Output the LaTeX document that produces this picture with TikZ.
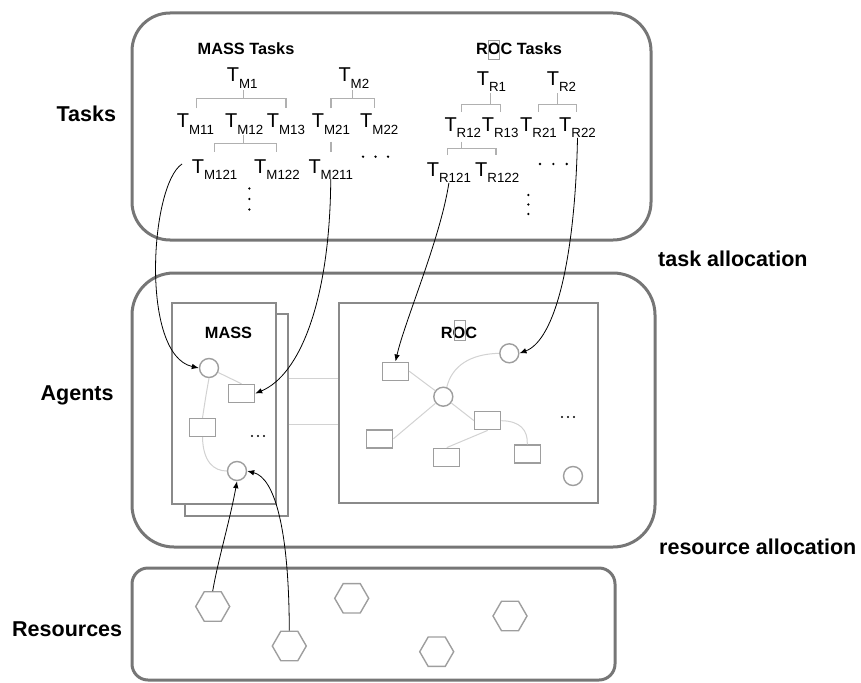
\documentclass[tikz,border=0pt]{standalone}
\usepackage{fontspec}
\setmainfont{Liberation Sans}
\usetikzlibrary{arrows.meta,shapes.geometric}

\definecolor{framegray}{HTML}{767676}
\definecolor{panelgray}{HTML}{8A8A8A}
\definecolor{elemgray}{HTML}{9E9E9E}
\definecolor{forkgray}{HTML}{B0B0B0}
\definecolor{linkgray}{HTML}{D2D2D2}

% task symbol with lowered index
\newcommand\tsk[1]{T\raisebox{-6pt}{\fontsize{13.3}{14}\selectfont #1}}
% bracket joining a task to its subtasks: left x, right x, stem x, stem top, bar y, tick bottom
\newcommand\forkline[6]{\draw[fork] (#3,#4) -- (#3,#5) (#1,#6) -- (#1,#5) -- (#2,#5) -- (#2,#6);}

\tikzset{
  layer/.style={draw=framegray, line width=3pt, rounded corners=#1, inner sep=0},
  panel/.style={draw=panelgray, line width=2.3pt, fill=white, inner sep=0},
  agentc/.style={circle, draw=elemgray, line width=1.4pt, minimum size=19pt, inner sep=0},
  agentr/.style={rectangle, draw=elemgray, line width=1.4pt, minimum width=26pt, minimum height=18pt, inner sep=0},
  res/.style={regular polygon, regular polygon sides=6, draw=elemgray, line width=1.4pt, minimum size=34pt, inner sep=0},
  sidelabel/.style={anchor=base west, inner sep=0, font=\fontsize{21.5}{24}\selectfont\bfseries},
  title/.style={anchor=base, inner sep=0, font=\fontsize{16.3}{18}\selectfont\bfseries},
  task/.style={anchor=base west, inner sep=0, font=\fontsize{20}{22}\selectfont},
  fork/.style={draw=forkgray, line width=1.5pt},
  link/.style={draw=linkgray, line width=1pt},
  alloc/.style={draw=black, line width=0.8pt, -{Latex[length=7pt,width=5.5pt]}},
  dotmark/.style={fill=black, draw=none},
}

\begin{document}
\begin{tikzpicture}[x=1pt,y=-1pt]
\useasboundingbox (0,0) rectangle (861,682);

% ---------- layers ----------
\node[layer=38pt, minimum width=519pt, minimum height=227pt] (tasklayer) at (391.5,126.5) {};
\node[layer=42pt, minimum width=523pt, minimum height=274pt] (agentlayer) at (393.5,410) {};
\node[layer=16pt, minimum width=483pt, minimum height=112pt] (reslayer) at (373.5,624) {};

\node[sidelabel] (ltasks) at (56.5,121.7) {Tasks};
\node[sidelabel] (lagents) at (40.5,400) {Agents};
\node[sidelabel] (lres) at (12,636.5) {Resources};
\node[sidelabel] (ltalloc) at (658,266.5) {task allocation};
\node[sidelabel] (lralloc) at (659,554) {resource allocation};

% ---------- task trees ----------
\node[title] (masstasks) at (246,55) {MASS Tasks};
\node[title] (roctasks) at (519,54.5) {ROC Tasks};
\draw[elemgray, line width=0.5pt] (488.5,40) rectangle (499.5,59.5);

\node[task] (tm1) at (226.7,82) {\tsk{M1}};
\node[task] (tm2) at (338.3,82) {\tsk{M2}};
\node[task] (tm11) at (176.7,128) {\tsk{M11}};
\node[task] (tm12) at (225,128) {\tsk{M12}};
\node[task] (tm13) at (266.7,128) {\tsk{M13}};
\node[task] (tm21) at (311.7,128) {\tsk{M21}};
\node[task] (tm22) at (360,128) {\tsk{M22}};
\node[task] (tm121) at (191.7,173) {\tsk{M121}};
\node[task] (tm122) at (254,173) {\tsk{M122}};
\node[task] (tm211) at (308.3,173) {\tsk{M211}};

\node[task] (tr1) at (476.7,85.5) {\tsk{R1}};
\node[task] (tr2) at (546.7,85.5) {\tsk{R2}};
\node[task] (tr12) at (444.3,131.7) {\tsk{R12}};
\node[task] (tr13) at (481.7,131.7) {\tsk{R13}};
\node[task] (tr21) at (520,131.7) {\tsk{R21}};
\node[task] (tr22) at (559,131.7) {\tsk{R22}};
\node[task] (tr121) at (426.7,176.7) {\tsk{R121}};
\node[task] (tr122) at (475,176.7) {\tsk{R122}};

\forkline{196.7}{286}{243.3}{90}{98.3}{108.3}
\forkline{331}{374.3}{352.7}{90}{98.3}{108.3}
\forkline{214.3}{276.7}{243.3}{135}{143.3}{151.7}
\draw[fork] (331,141.7) -- (331,151.7);
\forkline{461.7}{500.7}{490.7}{93.3}{104.3}{111.7}
\forkline{538.3}{576.7}{557.3}{93.3}{104.3}{111.7}
\forkline{447.7}{496}{461.7}{141.7}{148.3}{155}

% continuation dots
\foreach \p in {(363,156.7),(375.5,156.7),(388,156.7),
                (249.3,188.5),(249.3,199),(249.3,209.5),
                (540,164),(553.3,164),(566.7,164),
                (528.3,195),(528.3,204.5),(528.3,214)}
  \fill[dotmark] \p circle (1.3);

% ---------- agents ----------
\node[panel, minimum width=103pt, minimum height=202pt] (massback) at (236.5,415) {};
\node[panel, minimum width=104pt, minimum height=201pt] (massbox) at (224,403.5) {};
\node[panel, minimum width=259pt, minimum height=200pt] (rocbox) at (468.5,403) {};

\node[title] (masslabel) at (228.5,338) {MASS};
\node[title] (roclabel) at (459,338) {ROC};
\draw[elemgray, line width=0.5pt] (454,320) rectangle (465,340);

\draw[link] (massback.east |- 0,378) -- (rocbox.west |- 0,378);
\draw[link] (massback.east |- 0,424) -- (rocbox.west |- 0,424);

% MASS agents
\node[agentc] (mc1) at (209,368) {};
\node[agentr] (mr1) at (241.5,393.5) {};
\node[agentr] (mr2) at (202.5,427.5) {};
\node[agentc] (mc2) at (237,471) {};
\foreach \x in {252,258,264} \fill[dotmark] (\x,436) circle (1.1);

\draw[link] (mc1) -- (mr1.north);
\draw[link] (mc1.south) .. controls (206,395) .. (mr2.north);
\draw[link] (mr2.south) .. controls (203,462) and (214,471) .. (mc2.west);

% ROC agents
\node[agentc] (rc1) at (509.3,353.3) {};
\node[agentr] (ra) at (395.5,371.2) {};
\node[agentc] (rc0) at (443.3,396.7) {};
\node[agentr] (rb) at (379.7,438.8) {};
\node[agentr] (rcc) at (487.7,420.7) {};
\node[agentr] (rd) at (446.7,457.3) {};
\node[agentr] (re) at (527.3,454) {};
\node[agentc] (rc2) at (573,476) {};
\foreach \x in {562,568,574} \fill[dotmark] (\x,417) circle (1.1);

\draw[link] (ra.east) -- (rc0);
\draw[link] (rc0.70) .. controls (452,366) and (470,354) .. (rc1.west);
\draw[link] (rc0) -- (rb.east);
\draw[link] (rc0) -- (rcc.west);
\draw[link] (rcc.south) -- (rd.north);
\draw[link] (rcc.east) .. controls (520,421) and (528,430) .. (re.north);

% ---------- resources ----------
\node[res] (h1) at (212.7,606.5) {};
\node[res] (h2) at (289.3,646) {};
\node[res] (h3) at (351.7,598.3) {};
\node[res] (h4) at (436.7,651.7) {};
\node[res] (h5) at (510,616) {};

% ---------- allocations ----------
\coordinate (m121out) at (182,164);
\draw[alloc] (m121out) .. controls (150,185) and (140,355) .. (mc1.west);
\draw[alloc] (tm211.south) .. controls (330,300) and (300,375) .. (mr1.east);
\draw[alloc] (tr121.south) .. controls (440,240) and (405,320) .. (ra.north);
\draw[alloc] (tr22.south) .. controls (575,260) and (555,340) .. (rc1.east);
\draw[alloc] (h1.north) .. controls (218,560) and (230,520) .. (mc2.south);
\draw[alloc] (h2.north) .. controls (289,530) and (275,478) .. (mc2.east);
\end{tikzpicture}
\end{document}
